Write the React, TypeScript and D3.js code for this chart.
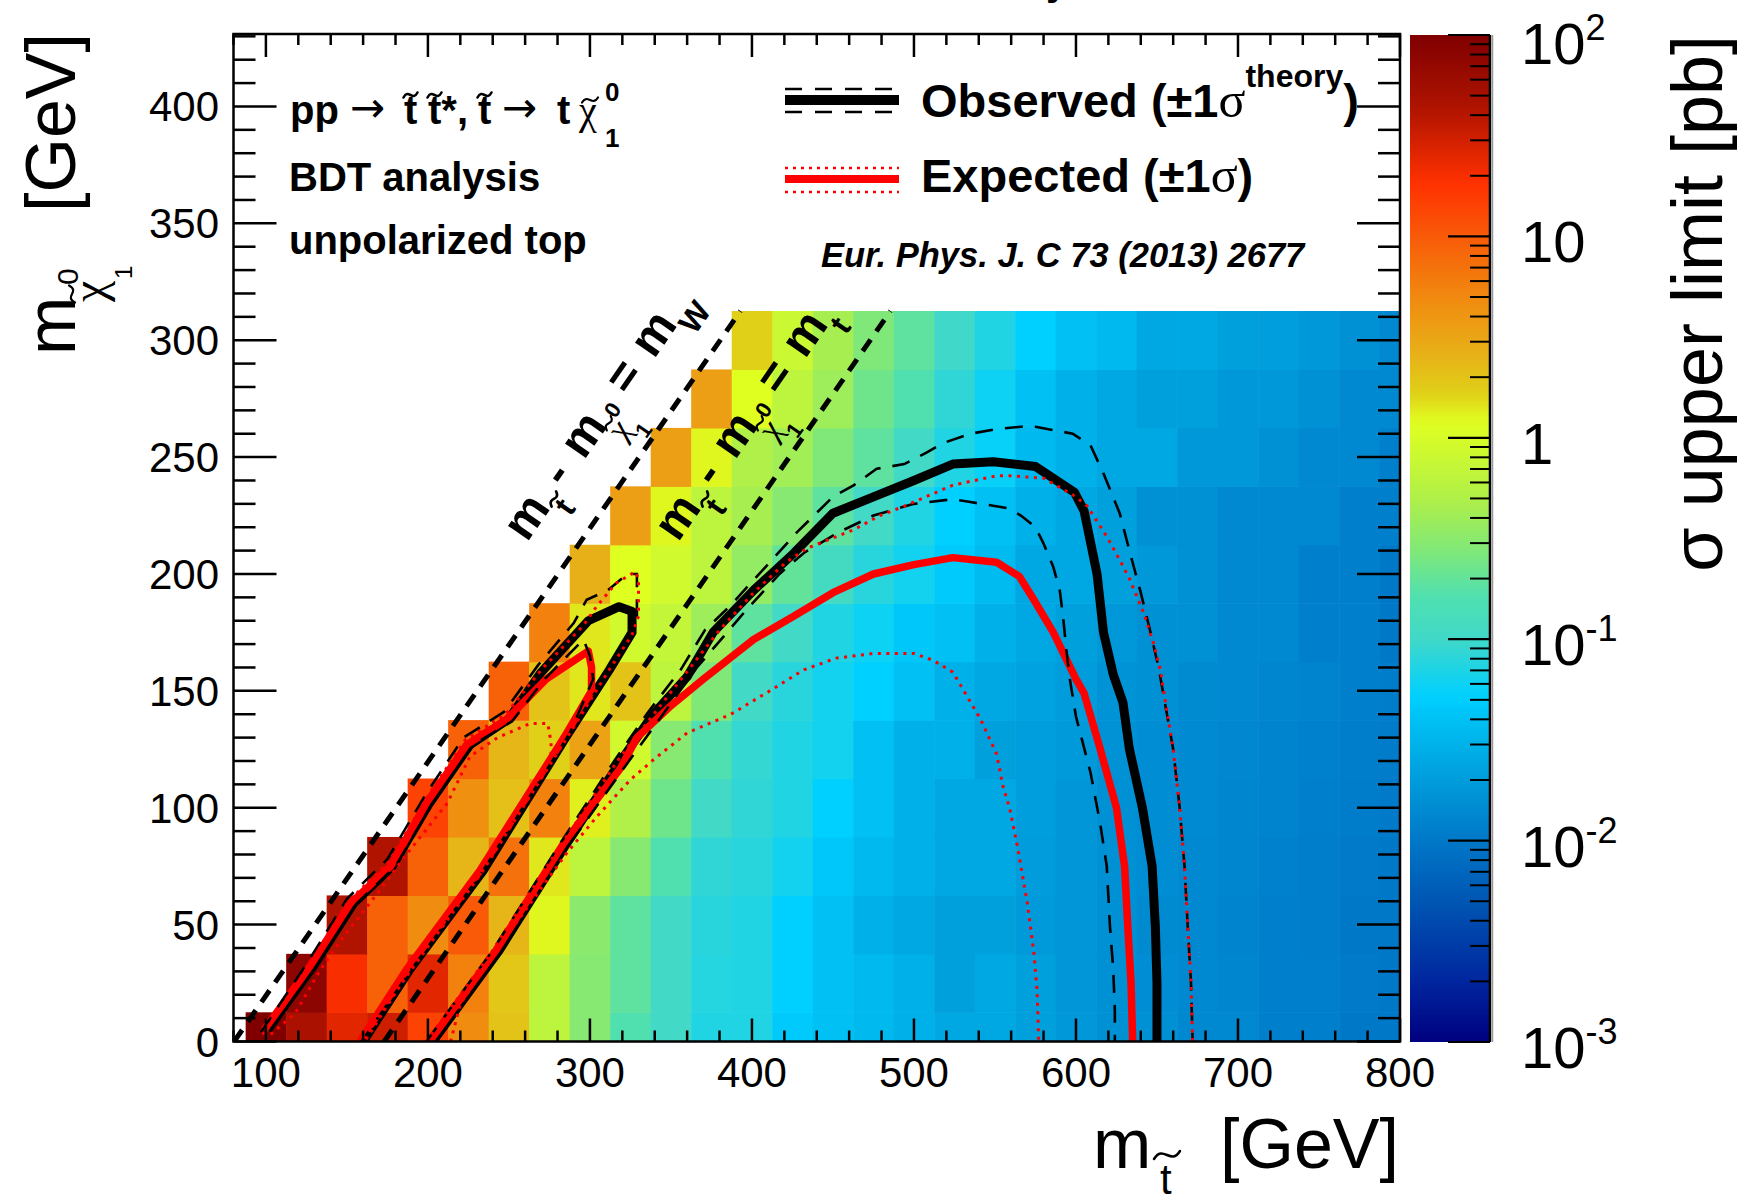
import React from "react";
import * as d3 from "d3";

const FONT = "'Liberation Sans', Arial, Helvetica, sans-serif";
const SERIF = "'Liberation Serif', 'Times New Roman', serif";
const ARROW = "'DejaVu Sans', 'Liberation Sans', sans-serif";

// ---- grid (bin centres) ----
const stopMasses = [100, 125, 150, 175, 200, 225, 250, 275, 300, 325, 350, 375, 400, 425, 450, 475, 500, 525, 550, 575, 600, 625, 650, 675, 700, 725, 750, 775, 800];
const lspMasses = [0, 25, 50, 75, 100, 125, 150, 175, 200, 225, 250, 275, 300];

// ---- log10(sigma upper limit [pb]) per neutralino-mass row; null = not computed ----
const lsp000 = [2.0, 1.68, 1.4, 1.5, 1.15, 0.68, 0.3, -0.2, -0.52, -0.79, -0.98, -1.14, -1.14, -1.33, -1.41, -1.47, -1.54, -1.6, -1.6, -1.67, -1.73, -1.8, -1.8, -1.86, -1.86, -1.93, -1.93, -2.0, -2.0];
const lsp025 = [null, 1.9, 1.3, 0.95, 1.4, 0.75, 0.28, -0.2, -0.52, -0.72, -0.98, -1.12, -1.14, -1.28, -1.41, -1.47, -1.54, -1.67, -1.6, -1.67, -1.75, -1.8, -1.82, -1.86, -1.88, -1.93, -1.93, -1.98, -2.0];
const lsp050 = [null, null, 1.63, 0.95, 0.68, 1.0, 0.38, 0.1, -0.5, -0.72, -0.98, -1.1, -1.14, -1.28, -1.41, -1.54, -1.6, -1.67, -1.67, -1.72, -1.75, -1.8, -1.84, -1.86, -1.9, -1.93, -1.95, -2.0, -2.0];
const lsp075 = [null, null, null, 1.63, 0.95, 0.38, 0.85, 0.15, -0.2, -0.52, -0.79, -1.07, -1.1, -1.2, -1.35, -1.47, -1.54, -1.6, -1.6, -1.7, -1.75, -1.8, -1.82, -1.86, -1.88, -1.92, -1.95, -1.98, -2.0];
const lsp100 = [null, null, null, null, 1.15, 0.65, 0.32, 0.75, 0.12, -0.3, -0.64, -0.98, -1.07, -1.14, -1.28, -1.41, -1.54, -1.6, -1.6, -1.68, -1.75, -1.8, -1.82, -1.85, -1.88, -1.9, -1.93, -1.96, -1.98];
const lsp125 = [null, null, null, null, null, 0.95, 0.38, 0.22, 0.52, -0.05, -0.52, -0.79, -1.05, -1.14, -1.2, -1.41, -1.54, -1.54, -1.67, -1.68, -1.72, -1.78, -1.82, -1.85, -1.87, -1.9, -1.92, -1.95, -1.97];
const lsp150 = [null, null, null, null, null, null, 0.95, 0.3, 0.15, 0.3, -0.2, -0.56, -0.98, -1.1, -1.2, -1.28, -1.41, -1.54, -1.6, -1.65, -1.7, -1.76, -1.8, -1.84, -1.86, -1.88, -1.9, -1.93, -1.96];
const lsp175 = [null, null, null, null, null, null, null, 0.75, 0.15, -0.05, -0.15, -0.4, -0.72, -0.98, -1.14, -1.22, -1.35, -1.41, -1.54, -1.6, -1.67, -1.73, -1.8, -1.8, -1.86, -1.86, -1.93, -1.94, -2.0];
const lsp200 = [null, null, null, null, null, null, null, null, 0.42, 0.07, -0.05, -0.2, -0.45, -0.7, -0.95, -1.1, -1.2, -1.33, -1.45, -1.6, -1.6, -1.67, -1.73, -1.8, -1.86, -1.86, -1.93, -1.93, -2.0];
const lsp225 = [null, null, null, null, null, null, null, null, null, 0.55, 0.1, -0.2, -0.35, -0.52, -0.72, -0.98, -1.14, -1.28, -1.41, -1.54, -1.6, -1.67, -1.8, -1.8, -1.86, -1.86, -1.86, -1.93, -1.93];
const lsp250 = [null, null, null, null, null, null, null, null, null, null, 0.55, 0.1, -0.3, -0.38, -0.56, -0.72, -0.98, -1.14, -1.25, -1.47, -1.54, -1.6, -1.6, -1.73, -1.73, -1.8, -1.86, -1.86, -1.93];
const lsp275 = [null, null, null, null, null, null, null, null, null, null, null, 0.55, 0.07, -0.2, -0.4, -0.64, -0.79, -1.07, -1.22, -1.41, -1.54, -1.6, -1.67, -1.67, -1.73, -1.73, -1.8, -1.86, -1.86];
const lsp300 = [null, null, null, null, null, null, null, null, null, null, null, null, 0.22, -0.1, -0.35, -0.56, -0.72, -1.0, -1.14, -1.28, -1.41, -1.47, -1.6, -1.6, -1.67, -1.68, -1.73, -1.8, -1.86];
const limitRows = [lsp000, lsp025, lsp050, lsp075, lsp100, lsp125, lsp150, lsp175, lsp200, lsp225, lsp250, lsp275, lsp300];

// ---- palette (log10 sigma -> colour) ----
const paletteLog10 = [2.0, 1.63, 1.27, 1.0, 0.68, 0.42, 0.22, 0.075, -0.3, -0.56, -0.79, -1.0, -1.28, -1.54, -1.73, -2.0, -2.35, -2.68, -3.0];
const paletteColors = ["#800000", "#b01400", "#ff3000", "#f85a08", "#f08c10", "#e8b018", "#e0d018", "#e0ff20", "#b0f048", "#80e878", "#50e0b0", "#40d8c8", "#00d0ff", "#00b0e8", "#0098d8", "#0078c8", "#0050b0", "#0028a0", "#000080"];

// ---- exclusion contours [m_stop, m_LSP] ----
const obsMain = [[203, 0], [244, 39], [285, 84], [319, 120], [339, 140], [360, 156], [376, 175], [401, 193], [426, 209], [450, 226], [475, 233], [500, 240], [524, 247], [549, 248], [575, 246], [599, 235], [605, 227], [613, 200], [617, 175], [623, 157], [629, 145], [633, 125], [641, 100], [647, 75], [649, 49], [650, 25], [650, 0]];
const obsMainUp = [[199, 0], [240, 39], [281, 84], [315, 120], [336, 141], [356, 159], [371, 176], [386, 186], [411, 205], [428, 218], [450, 233], [463, 238], [477, 245], [494, 247], [508, 252], [518, 256], [535, 260], [551, 262], [566, 263], [575, 263], [598, 260], [609, 255], [617, 243], [627, 226], [633, 210], [640, 192], [646, 175], [651, 160], [660, 125], [664, 100], [667, 75], [669, 49], [671, 25], [672, 0]];
const obsMainDown = [[205, 0], [246, 39], [287, 84], [322, 118], [343, 138], [366, 160], [381, 172], [397, 185], [417, 200], [432, 209], [454, 218], [475, 225], [500, 230], [524, 232], [533, 231], [559, 228], [566, 225], [575, 220], [580, 213], [586, 203], [590, 193], [592, 182], [594, 168], [596, 156], [600, 139], [609, 115], [615, 93], [619, 75], [621, 49], [623, 31], [624, 13], [624, 0]];
const expMain = [[201, 0], [242, 39], [284, 85], [319, 117], [329, 130], [349, 143], [370, 155], [401, 172], [426, 182], [450, 192], [475, 200], [500, 204], [524, 207], [551, 205], [565, 199], [574, 189], [586, 175], [600, 155], [605, 149], [615, 125], [625, 100], [630, 75], [632, 49], [634, 25], [635, 0]];
const expMainUp = [[199, 0], [240, 39], [282, 84], [318, 121], [345, 145], [380, 176], [401, 192], [421, 205], [434, 211], [463, 219], [479, 225], [494, 229], [524, 238], [551, 242], [559, 242], [580, 241], [600, 233], [607, 229], [619, 216], [627, 206], [633, 198], [642, 183], [648, 170], [652, 159], [660, 125], [664, 100], [667, 75], [669, 49], [671, 25], [672, 0]];
const expMainDown = [[214, 0], [220, 16], [235, 32], [260, 56], [285, 80], [304, 96], [325, 112], [340, 121], [360, 132], [387, 140], [411, 150], [432, 159], [452, 164], [475, 166], [494, 166], [500, 166], [512, 163], [524, 158], [541, 138], [551, 123], [555, 109], [559, 100], [564, 83], [570, 59], [574, 38], [576, 22], [577, 0]];

const obsIsland = [[101, 5], [129, 32], [154, 59], [178, 75], [201, 102], [226, 127], [250, 138], [270, 158], [299, 180], [318, 186], [326, 184], [326, 175], [312, 159], [285, 130], [234, 73], [189, 31], [160, 0]];
const obsIslandUp = [[97, 4], [125, 33], [150, 61], [175, 78], [198, 105], [222, 130], [247, 141], [268, 161], [290, 179], [298, 189], [311, 193], [323, 200], [329, 200], [329, 182], [326, 174], [311, 158], [285, 129], [233, 72], [188, 29], [159, 0]];
const obsIslandDown = [[103, 5], [131, 32], [156, 59], [180, 75], [203, 102], [228, 127], [252, 137], [272, 155], [296, 172], [300, 165], [302, 155], [287, 131], [236, 74], [190, 31], [161, 0]];
const expIsland = [[99, 5], [127, 32], [152, 59], [177, 75], [199, 102], [224, 127], [249, 138], [273, 155], [299, 167], [301, 160], [301, 150], [284, 130], [232, 73], [187, 31], [158, 0]];
const expIslandUp = [[98, 3], [126, 32], [151, 60], [176, 77], [199, 104], [223, 129], [248, 140], [270, 159], [296, 178], [304, 186], [316, 196], [328, 201], [330, 198], [330, 182], [326, 174], [311, 158], [285, 129], [233, 72], [188, 29], [159, 0]];
const expIslandDown = [[103, 3], [118, 12], [133, 30], [148, 45], [164, 59], [189, 82], [212, 102], [226, 122], [243, 130], [263, 136], [274, 136], [276, 128], [276, 122], [234, 74], [190, 32], [161, 0]];

// ---- kinematic boundaries (mass differences) ----
const massW = 80.4;
const massTop = 173;

// ---- axis ticks ----
const xMajorTicks = [100, 200, 300, 400, 500, 600, 700, 800];
const xMinorTicks = [80, 120, 140, 160, 180, 220, 240, 260, 280, 320, 340, 360, 380, 420, 440, 460, 480, 520, 540, 560, 580, 620, 640, 660, 680, 720, 740, 760, 780];
const yMajorTicks = [0, 50, 100, 150, 200, 250, 300, 350, 400];
const yMinorTicks = [10, 20, 30, 40, 60, 70, 80, 90, 110, 120, 130, 140, 160, 170, 180, 190, 210, 220, 230, 240, 260, 270, 280, 290, 310, 320, 330, 340, 360, 370, 380, 390, 410, 420, 430];
const zDecades = [-3, -2, -1, 0, 1, 2];
const zDecadeLabels = [["10", "-3"], ["10", "-2"], ["10", "-1"], ["1", ""], ["10", ""], ["10", "2"]];
const zMinorMultipliers = [2, 3, 4, 5, 6, 7, 8, 9];

// ---- layout ----
const PL = 233.5, PR = 1400, PT = 34, PB = 1041.5;
const xS = d3.scaleLinear().domain([80, 800]).range([PL, PR]);
const yS = d3.scaleLinear().domain([0, 431]).range([PB, PT]);
const CB = { x0: 1410, x1: 1490, top: 35, bottom: 1042 };
const zS = d3.scaleLinear().domain([-3, 2]).range([CB.bottom, CB.top]);
const colour = d3.scaleLinear<string>().domain(paletteLog10).range(paletteColors).interpolate(d3.interpolateRgb).clamp(true);

const lineGen = d3.line<number[]>().x((d) => xS(d[0])).y((d) => yS(d[1]));

function tildePath(cx: number, cy: number, w: number, h: number) {
  const x0 = cx - w / 2;
  const x1 = cx + w / 2;
  return `M${x0},${cy + h / 2} C${x0 + w * 0.35},${cy - h * 1.4} ${x0 + w * 0.65},${cy + h * 1.4} ${x1},${cy - h / 2}`;
}

function Tilde({ cx, cy, w, h, sw }: { cx: number; cy: number; w: number; h: number; sw: number }) {
  return <path d={tildePath(cx, cy, w, h)} fill="none" stroke="black" strokeWidth={sw} strokeLinecap="round" />;
}

function DiagonalLabel({ bx, by, angle, last }: { bx: number; by: number; angle: number; last: string }) {
  return (
    <g transform={`translate(${bx},${by}) rotate(${angle})`} fontFamily={FONT} fontWeight="bold" fill="black">
      <text x={0} y={0} fontSize={48}>m</text>
      <text x={46} y={21} fontSize={32}>t</text>
      <Tilde cx={51.5} cy={-3} w={15} h={5} sw={2.6} />
      <text x={66} y={0} fontSize={48}>-</text>
      <text x={100} y={0} fontSize={48}>m</text>
      <text x={138} y={22} fontSize={34} fontFamily={SERIF} fontWeight="normal">χ</text>
      <Tilde cx={145} cy={-1} w={14} h={5} sw={2.2} />
      <text x={152} y={2} fontSize={22}>0</text>
      <text x={153} y={39} fontSize={22}>1</text>
      <text x={178} y={0} fontSize={48}>=</text>
      <text x={223} y={0} fontSize={48}>m</text>
      <text x={266} y={20} fontSize={32}>{last}</text>
    </g>
  );
}

export default function App() {
  const cells: any[] = [];
  limitRows.forEach((row, r) => {
    const lsp = lspMasses[r];
    row.forEach((v, c) => {
      if (v === null || v === undefined) return;
      const ms = stopMasses[c];
      const xa = xS(Math.max(ms - 12.5, 80));
      const xb = xS(Math.min(ms + 12.5, 800));
      const ya = yS(lsp + 12.5);
      const yb = yS(Math.max(lsp - 12.5, 0));
      cells.push(
        <rect key={`c${r}-${c}`} x={xa} y={ya} width={xb - xa + 0.6} height={yb - ya + 0.6} fill={colour(v as number)} />
      );
    });
  });

  const angle = -(Math.atan2(yS(0) - yS(100), xS(100) - xS(0)) * 180) / Math.PI;
  const gradStops = d3.range(0, 101).map((i) => {
    const lg = 2 - (5 * i) / 100;
    return <stop key={i} offset={`${i}%`} stopColor={colour(lg)} />;
  });

  const zMinor: number[] = [];
  zDecades.slice(0, 5).forEach((d) => zMinorMultipliers.forEach((k) => zMinor.push(d + Math.log10(k))));

  return (
    <svg width={1740} height={1197} style={{ position: "absolute", left: 0, top: 0 }} fontFamily={FONT}>
      <defs>
        <linearGradient id="pal" x1="0" y1="0" x2="0" y2="1">
          {gradStops}
        </linearGradient>
        <clipPath id="plotClip">
          <rect x={PL} y={PT} width={PR - PL} height={PB - PT} />
        </clipPath>
      </defs>
      <rect x={0} y={0} width={1740} height={1197} fill="white" />

      {/* partially visible title descender */}
      <text x={1046} y={-5} fontSize={40} fontWeight="bold">y</text>

      <g clipPath="url(#plotClip)">
        {cells}

        {/* kinematic lines */}
        <line x1={xS(massW)} y1={yS(0)} x2={xS(massW + 312.5)} y2={yS(312.5)} stroke="black" strokeWidth={5} strokeDasharray="14 10" />
        <line x1={xS(massTop)} y1={yS(0)} x2={xS(massTop + 312.5)} y2={yS(312.5)} stroke="black" strokeWidth={5} strokeDasharray="14 10" />

        {/* observed (black) */}
        {[obsMain, obsIsland].map((d, i) => (
          <path key={`o${i}`} d={lineGen(d as any) || ""} fill="none" stroke="black" strokeWidth={9} strokeLinejoin="round" />
        ))}
        {/* expected (red) */}
        {[expMain, expIsland].map((d, i) => (
          <path key={`e${i}`} d={lineGen(d as any) || ""} fill="none" stroke="#ff0000" strokeWidth={7.5} strokeLinejoin="round" />
        ))}
        {/* observed +-1 sigma theory */}
        {[obsMainUp, obsMainDown, obsIslandUp, obsIslandDown].map((d, i) => (
          <path key={`od${i}`} d={lineGen(d as any) || ""} fill="none" stroke="black" strokeWidth={2.6} strokeDasharray="18 12" />
        ))}
        {/* expected +-1 sigma */}
        {[expMainUp, expMainDown, expIslandUp, expIslandDown].map((d, i) => (
          <path key={`ed${i}`} d={lineGen(d as any) || ""} fill="none" stroke="#ff0000" strokeWidth={3} strokeDasharray="3 5.5" />
        ))}
      </g>

      {/* diagonal labels */}
      <DiagonalLabel bx={527} by={543} angle={angle} last="W" />
      <DiagonalLabel bx={678} by={543} angle={angle} last="t" />

      {/* frame */}
      <rect x={PL} y={PT} width={PR - PL} height={PB - PT} fill="none" stroke="black" strokeWidth={2.5} />
      {xMajorTicks.map((v) => (
        <g key={`xM${v}`}>
          <line x1={xS(v)} x2={xS(v)} y1={PB} y2={PB - 23} stroke="black" strokeWidth={2.5} />
          <line x1={xS(v)} x2={xS(v)} y1={PT} y2={PT + 23} stroke="black" strokeWidth={2.5} />
          <text x={xS(v)} y={1087} fontSize={42} textAnchor="middle">{v}</text>
        </g>
      ))}
      {xMinorTicks.map((v) => (
        <g key={`xm${v}`}>
          <line x1={xS(v)} x2={xS(v)} y1={PB} y2={PB - 11} stroke="black" strokeWidth={2.5} />
          <line x1={xS(v)} x2={xS(v)} y1={PT} y2={PT + 11} stroke="black" strokeWidth={2.5} />
        </g>
      ))}
      {yMajorTicks.map((v) => (
        <g key={`yM${v}`}>
          <line x1={PL} x2={PL + 43} y1={yS(v)} y2={yS(v)} stroke="black" strokeWidth={2.5} />
          <line x1={PR} x2={PR - 43} y1={yS(v)} y2={yS(v)} stroke="black" strokeWidth={2.5} />
          <text x={219} y={yS(v) + 15} fontSize={42} textAnchor="end">{v}</text>
        </g>
      ))}
      {yMinorTicks.map((v) => (
        <g key={`ym${v}`}>
          <line x1={PL} x2={PL + 22} y1={yS(v)} y2={yS(v)} stroke="black" strokeWidth={2.5} />
          <line x1={PR} x2={PR - 22} y1={yS(v)} y2={yS(v)} stroke="black" strokeWidth={2.5} />
        </g>
      ))}

      {/* colour bar */}
      <rect x={CB.x0} y={CB.top} width={CB.x1 - CB.x0} height={CB.bottom - CB.top} fill="url(#pal)" />
      <line x1={CB.x1} x2={CB.x1} y1={CB.top} y2={CB.bottom} stroke="black" strokeWidth={2.5} />
      <line x1={CB.x1 + 2.5} x2={CB.x1 + 2.5} y1={CB.top} y2={CB.bottom} stroke="#999" strokeWidth={1.5} />
      {zDecades.map((d, i) => (
        <g key={`zd${d}`}>
          <line x1={CB.x1} x2={CB.x1 - 42} y1={zS(d)} y2={zS(d)} stroke="black" strokeWidth={2.2} />
          <text x={1521} y={d === 2 ? 64 : zS(d) + 26} fontSize={58}>
            {zDecadeLabels[i][0]}
            {zDecadeLabels[i][1] !== "" && (
              <tspan fontSize={36} dy={-24}>{zDecadeLabels[i][1]}</tspan>
            )}
          </text>
        </g>
      ))}
      {zMinor.map((v, i) => (
        <line key={`zm${i}`} x1={CB.x1} x2={CB.x1 - 20} y1={zS(v)} y2={zS(v)} stroke="black" strokeWidth={2} />
      ))}
      <g transform="translate(1722,0) rotate(-90)">
        <text x={-35} y={0} fontSize={72} textAnchor="end">σ upper limit [pb]</text>
      </g>

      {/* x axis title */}
      <text x={1093} y={1168} fontSize={70}>m</text>
      <text x={1160} y={1194} fontSize={42}>t</text>
      <Tilde cx={1167} cy={1155} w={26} h={8} sw={2.5} />
      <text x={1399} y={1168} fontSize={70} textAnchor="end">[GeV]</text>

      {/* y axis title */}
      <g transform="translate(75,355) rotate(-90)">
        <text x={0} y={0} fontSize={70}>m</text>
        <text x={53} y={30} fontSize={48} fontFamily={SERIF}>χ</text>
        <Tilde cx={61} cy={-3} w={17} h={6} sw={2.2} />
        <text x={70} y={3} fontSize={30}>0</text>
        <text x={76} y={57} fontSize={24}>1</text>
        <text x={322} y={0} fontSize={70} textAnchor="end">[GeV]</text>
      </g>

      {/* process text */}
      <g fontWeight="bold" fontSize={40}>
        <text x={290} y={124}>pp</text>
        <text x={350} y={122} fontFamily={ARROW} fontWeight="normal" fontSize={42}>→</text>
        <text x={404} y={124}>t</text>
        <Tilde cx={410.5} cy={95} w={14} h={5} sw={2.6} />
        <text x={428} y={124}>t*,</text>
        <Tilde cx={434.5} cy={95} w={14} h={5} sw={2.6} />
        <text x={478} y={124}>t</text>
        <Tilde cx={484.5} cy={95} w={14} h={5} sw={2.6} />
        <text x={502} y={122} fontFamily={ARROW} fontWeight="normal" fontSize={42}>→</text>
        <text x={557} y={124}>t</text>
        <text x={579} y={124} fontFamily={SERIF} fontWeight="normal" fontSize={40}>χ</text>
        <Tilde cx={590} cy={100} w={16} h={5} sw={2.2} />
        <text x={605} y={101} fontSize={26}>0</text>
        <text x={605} y={147} fontSize={26}>1</text>
        <text x={289} y={191}>BDT analysis</text>
        <text x={289} y={254}>unpolarized top</text>
      </g>

      {/* legend */}
      <line x1={785} x2={899} y1={100} y2={100} stroke="black" strokeWidth={10} />
      <line x1={785} x2={899} y1={89} y2={89} stroke="black" strokeWidth={2.5} strokeDasharray="17 13" />
      <line x1={785} x2={899} y1={112} y2={112} stroke="black" strokeWidth={2.5} strokeDasharray="17 13" />
      <line x1={785} x2={899} y1={179} y2={179} stroke="#ff0000" strokeWidth={8} />
      <line x1={785} x2={899} y1={168} y2={168} stroke="#ff0000" strokeWidth={2.5} strokeDasharray="3 5" />
      <line x1={785} x2={899} y1={192} y2={192} stroke="#ff0000" strokeWidth={2.5} strokeDasharray="3 5" />
      <text x={921} y={117} fontSize={47} fontWeight="bold">
        Observed (±1
        <tspan fontFamily={SERIF} fontWeight="normal" fontSize={50}>σ</tspan>
        <tspan fontSize={32} dy={-30}>theory</tspan>
        <tspan dy={30}>)</tspan>
      </text>
      <text x={921} y={192} fontSize={47} fontWeight="bold">
        Expected (±1
        <tspan fontFamily={SERIF} fontWeight="normal" fontSize={50}>σ</tspan>)
      </text>
      <text x={821} y={267} fontSize={34.5} fontWeight="bold" fontStyle="italic">Eur. Phys. J. C 73 (2013) 2677</text>
    </svg>
  );
}
